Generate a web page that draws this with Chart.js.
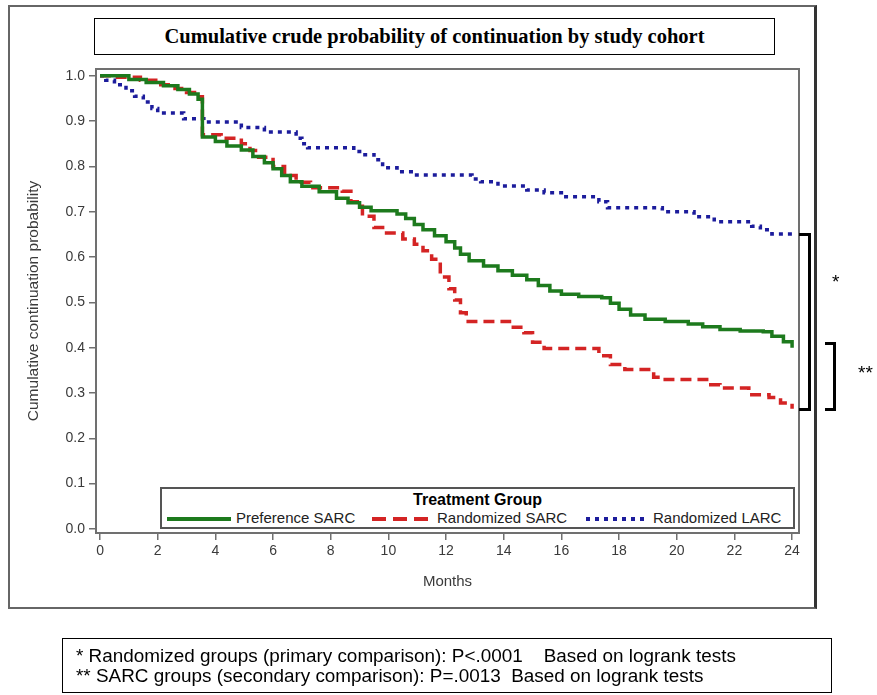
<!DOCTYPE html>
<html>
<head>
<meta charset="utf-8">
<script src="https://cdn.jsdelivr.net/npm/chart.js@4.4.1/dist/chart.umd.min.js"></script>
<style>
  html, body { margin: 0; padding: 0; background: #fff; }
  body { width: 877px; height: 695px; position: relative; overflow: hidden; font-family: "Liberation Sans", Arial, sans-serif; }
  #frame { position: absolute; left: 8px; top: 5px; width: 804px; height: 600px; border: 2px solid #666; border-right: 3px solid #333; }
  #titleBox { position: absolute; left: 94px; top: 18px; width: 679px; height: 35px; border: 1.5px solid #000; text-align: center; line-height: 35px; font-family: "Liberation Serif", "Times New Roman", serif; font-weight: bold; font-size: 20.5px; color: #000; }
  #chartWrap { position: absolute; left: 0; top: 0; width: 877px; height: 695px; }
  #legend { position: absolute; left: 160px; top: 487px; width: 631px; height: 38px; border: 2px solid #555; background: #fff; font-size: 15px; color: #222; }
  #legend .ttl { position: absolute; left: 0; width: 100%; top: 2px; text-align: center; font-weight: bold; font-size: 16px; color: #000; }
  #legend .item { position: absolute; top: 20px; white-space: nowrap; }
  #legend svg { vertical-align: middle; margin-right: 5px; }
  .brk { position: absolute; border: 3px solid #000; border-left: none; }
  .star { position: absolute; font-size: 19px; color: #000; }
  #foot { position: absolute; left: 62px; top: 638px; width: 770px; height: 55px; border: 1px solid #000; font-size: 18.9px; color: #000; line-height: 20px; box-sizing: border-box; padding: 7px 0 0 13px; white-space: nowrap; }
</style>
</head>
<body>
<div id="frame"></div>
<div id="titleBox">Cumulative crude probability of continuation by study cohort</div>
<div id="chartWrap"><canvas id="kmChart" width="877" height="695"></canvas></div>
<div id="legend">
  <div class="ttl">Treatment Group</div>
  <div class="item" style="left:5px"><svg width="64" height="8"><line x1="0" y1="4" x2="64" y2="4" stroke="#1d7a1d" stroke-width="4"/></svg>Preference SARC</div>
  <div class="item" style="left:210px"><svg width="60" height="8"><line x1="0" y1="4" x2="60" y2="4" stroke="#d42424" stroke-width="4" stroke-dasharray="14,7"/></svg>Randomized SARC</div>
  <div class="item" style="left:424px"><svg width="62" height="8"><line x1="0" y1="4" x2="62" y2="4" stroke="#1c1c9c" stroke-width="4" stroke-dasharray="4,5"/></svg>Randomized LARC</div>
</div>
<div class="brk" style="left:799px; top:233px; width:9px; height:172px;"></div>
<div class="star" style="left:832px; top:271px;">*</div>
<div class="brk" style="left:825px; top:342px; width:8px; height:63px;"></div>
<div class="star" style="left:858px; top:362px;">**</div>
<div id="foot">* Randomized groups (primary comparison): P&lt;.0001&nbsp;&nbsp;&nbsp; Based on logrank tests<br>** SARC groups (secondary comparison): P=.0013&nbsp; Based on logrank tests</div>

<script>
// Kaplan-Meier style step data (months, probability after the step)
const prefMonths = [0, 1.0, 1.6, 2.2, 2.7, 3.1, 3.4, 3.55, 4.0, 4.4, 4.9, 5.3, 5.7, 6.0, 6.3, 6.6, 7.0, 7.6, 8.2, 8.6, 9.0, 9.4, 10.3, 10.6, 10.9, 11.2, 11.6, 12.0, 12.3, 12.5, 12.8, 13.3, 13.8, 14.3, 14.8, 15.2, 15.6, 16.0, 16.6, 17.4, 17.7, 18.0, 18.4, 18.9, 19.6, 20.4, 20.9, 21.5, 22.2, 23.0, 23.3, 23.7, 24.0];
const prefSurv = [1.0, 0.992, 0.985, 0.978, 0.97, 0.96, 0.948, 0.865, 0.855, 0.845, 0.836, 0.822, 0.808, 0.795, 0.78, 0.766, 0.756, 0.744, 0.73, 0.72, 0.71, 0.702, 0.695, 0.685, 0.672, 0.66, 0.647, 0.634, 0.62, 0.606, 0.592, 0.58, 0.57, 0.56, 0.55, 0.537, 0.525, 0.518, 0.513, 0.51, 0.498, 0.485, 0.472, 0.463, 0.458, 0.452, 0.446, 0.44, 0.437, 0.435, 0.425, 0.413, 0.40];

const randSarcMonths = [0, 0.5, 1.4, 2.0, 2.6, 3.0, 3.4, 3.55, 4.2, 4.9, 5.2, 5.5, 6.0, 6.4, 6.8, 7.3, 8.4, 8.7, 9.1, 9.5, 9.8, 10.5, 10.9, 11.2, 11.5, 11.8, 12.1, 12.3, 12.5, 12.7, 14.2, 14.7, 15.0, 15.4, 17.3, 17.7, 18.2, 19.2, 19.6, 21.1, 21.5, 22.5, 23.2, 23.6, 24.0];
const randSarcSurv = [1.0, 0.997, 0.99, 0.98, 0.972, 0.963, 0.954, 0.87, 0.862, 0.85, 0.835, 0.82, 0.80, 0.78, 0.765, 0.753, 0.745, 0.722, 0.69, 0.665, 0.653, 0.64, 0.628, 0.614, 0.595, 0.556, 0.53, 0.505, 0.477, 0.458, 0.445, 0.433, 0.412, 0.398, 0.382, 0.363, 0.352, 0.335, 0.33, 0.318, 0.311, 0.296, 0.29, 0.278, 0.265];

const randLarcMonths = [0, 0.2, 0.5, 0.9, 1.2, 1.5, 1.8, 2.0, 2.9, 3.6, 4.9, 5.7, 6.8, 7.0, 7.2, 8.8, 9.1, 9.5, 9.8, 10.3, 10.9, 12.9, 13.2, 13.8, 14.8, 15.4, 16.0, 17.3, 17.6, 19.5, 20.6, 21.3, 22.6, 22.9, 23.3, 24.0];
const randLarcSurv = [1.0, 0.99, 0.98, 0.967, 0.955, 0.942, 0.928, 0.918, 0.905, 0.898, 0.886, 0.876, 0.862, 0.85, 0.841, 0.833, 0.826, 0.815, 0.797, 0.788, 0.781, 0.772, 0.766, 0.757, 0.748, 0.742, 0.733, 0.722, 0.709, 0.70, 0.689, 0.678, 0.668, 0.66, 0.651, 0.649];

const monthTicks = [0, 2, 4, 6, 8, 10, 12, 14, 16, 18, 20, 22, 24];
const probTicks = [0, 0.1, 0.2, 0.3, 0.4, 0.5, 0.6, 0.7, 0.8, 0.9, 1.0];

function toPoints(months, vals) {
  return months.map((m, i) => ({ x: m, y: vals[i] }));
}

// grey box round the plot area
const plotBox = {
  id: 'plotBox',
  afterDraw(chart) {
    const a = chart.chartArea;
    const ctx = chart.ctx;
    ctx.save();
    ctx.strokeStyle = '#707070';
    ctx.lineWidth = 2;
    ctx.strokeRect(a.left, a.top, a.right - a.left, a.bottom - a.top);
    ctx.restore();
  }
};

const ctx = document.getElementById('kmChart').getContext('2d');
const kmChart = new Chart(ctx, {
  type: 'line',
  data: {
    datasets: [{
      label: 'Preference SARC',
      data: toPoints(prefMonths, prefSurv),
      borderColor: '#1d7a1d',
      borderWidth: 3.5,
      stepped: true,
      pointRadius: 0,
      fill: false
    }, {
      label: 'Randomized SARC',
      data: toPoints(randSarcMonths, randSarcSurv),
      borderColor: '#d42424',
      borderWidth: 3.5,
      borderDash: [11, 6],
      stepped: true,
      pointRadius: 0,
      fill: false
    }, {
      label: 'Randomized LARC',
      data: toPoints(randLarcMonths, randLarcSurv),
      borderColor: '#1c1c9c',
      borderWidth: 3.5,
      borderDash: [4, 5],
      stepped: true,
      pointRadius: 0,
      fill: false
    }]
  },
  options: {
    responsive: false,
    animation: false,
    layout: { padding: { left: 20, top: 69, right: 78, bottom: 100 } },
    plugins: {
      legend: { display: false },
      tooltip: { enabled: false }
    },
    scales: {
      x: {
        type: 'linear',
        min: -0.14,
        max: 24.24,
        afterBuildTicks: (scale) => { scale.ticks = monthTicks.map(v => ({ value: v })); },
        afterFit: (scale) => { scale.height = 62; },
        ticks: { color: '#3a3a3a', font: { family: 'Liberation Sans', size: 14 }, padding: 3, maxRotation: 0 },
        grid: { drawOnChartArea: false, drawTicks: true, tickLength: 7, color: '#707070', lineWidth: 1.5 },
        border: { display: false },
        title: { display: true, text: 'Months', color: '#3a3a3a', font: { family: 'Liberation Sans', size: 15 }, padding: { top: 4, bottom: 4 } }
      },
      y: {
        min: -0.009,
        max: 1.015,
        afterBuildTicks: (scale) => { scale.ticks = probTicks.map(v => ({ value: v })); },
        afterFit: (scale) => { scale.width = 76; },
        ticks: { color: '#3a3a3a', font: { family: 'Liberation Sans', size: 14 }, padding: 4, callback: (v) => v.toFixed(1) },
        grid: { drawOnChartArea: false, drawTicks: true, tickLength: 7, color: '#707070', lineWidth: 1.5 },
        border: { display: false },
        title: { display: true, text: 'Cumulative continuation probability', color: '#3a3a3a', font: { family: 'Liberation Sans', size: 15.5 }, padding: { top: 4, bottom: 4 } }
      }
    }
  },
  plugins: [plotBox]
});
</script>
</body>
</html>
